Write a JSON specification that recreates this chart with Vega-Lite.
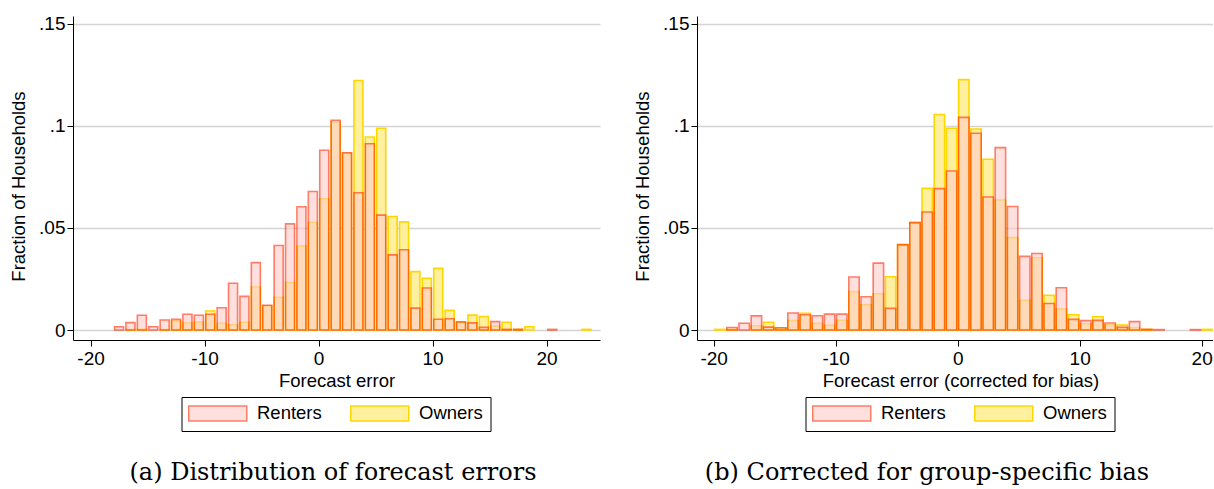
{
  "$schema": "https://vega.github.io/schema/vega-lite/v6.json",
  "background": "white",
  "padding": {"left": 9, "top": 14, "right": 0, "bottom": 0},
  "bounds": "flush",
  "spacing": 97,
  "config": {
    "view": {"stroke": null},
    "font": "Liberation Sans",
    "axis": {
      "domainColor": "black",
      "domainWidth": 1,
      "tickColor": "black",
      "tickWidth": 1,
      "tickSize": 6,
      "labelColor": "black",
      "labelFont": "Liberation Sans",
      "labelFontSize": 19,
      "titleFont": "Liberation Sans",
      "titleFontSize": 18.5,
      "titleFontWeight": "normal",
      "titleColor": "black",
      "gridColor": "#d4d4d4",
      "gridWidth": 1.3
    },
    "legend": {
      "direction": "horizontal",
      "strokeColor": "black",
      "padding": 7,
      "symbolType": "M-3.867,-1H3.867V1H-3.867Z",
      "symbolSize": 225,
      "symbolStrokeWidth": 1.5,
      "symbolOffset": 20,
      "labelOffset": 30,
      "columnPadding": 25,
      "labelFont": "Liberation Sans",
      "labelFontSize": 18.5,
      "labelColor": "black",
      "labelLimit": 0
    },
    "title": {
      "orient": "bottom",
      "anchor": "middle",
      "frame": "group",
      "font": "DejaVu Serif",
      "fontSize": 24,
      "fontWeight": "normal",
      "color": "black",
      "baseline": "alphabetic",
      "offset": 29
    }
  },
  "resolve": {
    "scale": {"fill": "independent", "stroke": "independent", "opacity": "independent"},
    "legend": {"fill": "independent", "stroke": "independent", "opacity": "independent"}
  },
  "datasets": {
    "errors": [
      {"group": "Renters", "lo": -18, "hi": -17, "frac": 0.0016},
      {"group": "Renters", "lo": -17, "hi": -16, "frac": 0.0036},
      {"group": "Renters", "lo": -16, "hi": -15, "frac": 0.0072},
      {"group": "Renters", "lo": -15, "hi": -14, "frac": 0.0016},
      {"group": "Renters", "lo": -14, "hi": -13, "frac": 0.0049},
      {"group": "Renters", "lo": -13, "hi": -12, "frac": 0.0052},
      {"group": "Renters", "lo": -12, "hi": -11, "frac": 0.0077},
      {"group": "Renters", "lo": -11, "hi": -10, "frac": 0.0072},
      {"group": "Renters", "lo": -10, "hi": -9, "frac": 0.0077},
      {"group": "Renters", "lo": -9, "hi": -8, "frac": 0.0109},
      {"group": "Renters", "lo": -8, "hi": -7, "frac": 0.0229},
      {"group": "Renters", "lo": -7, "hi": -6, "frac": 0.0165},
      {"group": "Renters", "lo": -6, "hi": -5, "frac": 0.0330},
      {"group": "Renters", "lo": -5, "hi": -4, "frac": 0.0121},
      {"group": "Renters", "lo": -4, "hi": -3, "frac": 0.0414},
      {"group": "Renters", "lo": -3, "hi": -2, "frac": 0.0520},
      {"group": "Renters", "lo": -2, "hi": -1, "frac": 0.0604},
      {"group": "Renters", "lo": -1, "hi": 0, "frac": 0.0679},
      {"group": "Renters", "lo": 0, "hi": 1, "frac": 0.0881},
      {"group": "Renters", "lo": 1, "hi": 2, "frac": 0.1028},
      {"group": "Renters", "lo": 2, "hi": 3, "frac": 0.0869},
      {"group": "Renters", "lo": 3, "hi": 4, "frac": 0.0673},
      {"group": "Renters", "lo": 4, "hi": 5, "frac": 0.0913},
      {"group": "Renters", "lo": 5, "hi": 6, "frac": 0.0563},
      {"group": "Renters", "lo": 6, "hi": 7, "frac": 0.0368},
      {"group": "Renters", "lo": 7, "hi": 8, "frac": 0.0393},
      {"group": "Renters", "lo": 8, "hi": 9, "frac": 0.0107},
      {"group": "Renters", "lo": 9, "hi": 10, "frac": 0.0206},
      {"group": "Renters", "lo": 10, "hi": 11, "frac": 0.0053},
      {"group": "Renters", "lo": 11, "hi": 12, "frac": 0.0055},
      {"group": "Renters", "lo": 12, "hi": 13, "frac": 0.0040},
      {"group": "Renters", "lo": 13, "hi": 14, "frac": 0.0035},
      {"group": "Renters", "lo": 14, "hi": 15, "frac": 0.0013},
      {"group": "Renters", "lo": 15, "hi": 16, "frac": 0.0041},
      {"group": "Renters", "lo": 16, "hi": 17, "frac": 0.0003},
      {"group": "Renters", "lo": 17, "hi": 18, "frac": 0.0003},
      {"group": "Renters", "lo": 20, "hi": 21, "frac": 0.0003},
      {"group": "Owners", "lo": -17, "hi": -16, "frac": 0.0002},
      {"group": "Owners", "lo": -16, "hi": -15, "frac": 0.0003},
      {"group": "Owners", "lo": -14, "hi": -13, "frac": 0.0002},
      {"group": "Owners", "lo": -13, "hi": -12, "frac": 0.0044},
      {"group": "Owners", "lo": -12, "hi": -11, "frac": 0.0034},
      {"group": "Owners", "lo": -11, "hi": -10, "frac": 0.0039},
      {"group": "Owners", "lo": -10, "hi": -9, "frac": 0.0093},
      {"group": "Owners", "lo": -9, "hi": -8, "frac": 0.0033},
      {"group": "Owners", "lo": -8, "hi": -7, "frac": 0.0025},
      {"group": "Owners", "lo": -7, "hi": -6, "frac": 0.0038},
      {"group": "Owners", "lo": -6, "hi": -5, "frac": 0.0211},
      {"group": "Owners", "lo": -5, "hi": -4, "frac": 0.0118},
      {"group": "Owners", "lo": -4, "hi": -3, "frac": 0.0160},
      {"group": "Owners", "lo": -3, "hi": -2, "frac": 0.0232},
      {"group": "Owners", "lo": -2, "hi": -1, "frac": 0.0411},
      {"group": "Owners", "lo": -1, "hi": 0, "frac": 0.0527},
      {"group": "Owners", "lo": 0, "hi": 1, "frac": 0.0643},
      {"group": "Owners", "lo": 1, "hi": 2, "frac": 0.1021},
      {"group": "Owners", "lo": 2, "hi": 3, "frac": 0.0866},
      {"group": "Owners", "lo": 3, "hi": 4, "frac": 0.1223},
      {"group": "Owners", "lo": 4, "hi": 5, "frac": 0.0946},
      {"group": "Owners", "lo": 5, "hi": 6, "frac": 0.0989},
      {"group": "Owners", "lo": 6, "hi": 7, "frac": 0.0556},
      {"group": "Owners", "lo": 7, "hi": 8, "frac": 0.0530},
      {"group": "Owners", "lo": 8, "hi": 9, "frac": 0.0286},
      {"group": "Owners", "lo": 9, "hi": 10, "frac": 0.0254},
      {"group": "Owners", "lo": 10, "hi": 11, "frac": 0.0302},
      {"group": "Owners", "lo": 11, "hi": 12, "frac": 0.0096},
      {"group": "Owners", "lo": 12, "hi": 13, "frac": 0.0037},
      {"group": "Owners", "lo": 13, "hi": 14, "frac": 0.0073},
      {"group": "Owners", "lo": 14, "hi": 15, "frac": 0.0066},
      {"group": "Owners", "lo": 15, "hi": 16, "frac": 0.0019},
      {"group": "Owners", "lo": 16, "hi": 17, "frac": 0.0038},
      {"group": "Owners", "lo": 17, "hi": 18, "frac": 0.0003},
      {"group": "Owners", "lo": 18, "hi": 19, "frac": 0.0016},
      {"group": "Owners", "lo": 23, "hi": 24, "frac": 0.0003}
    ],
    "corrected": [
      {"group": "Renters", "lo": -19, "hi": -18, "frac": 0.0012},
      {"group": "Renters", "lo": -18, "hi": -17, "frac": 0.0033},
      {"group": "Renters", "lo": -17, "hi": -16, "frac": 0.0069},
      {"group": "Renters", "lo": -16, "hi": -15, "frac": 0.0014},
      {"group": "Renters", "lo": -15, "hi": -14, "frac": 0.0011},
      {"group": "Renters", "lo": -14, "hi": -13, "frac": 0.0083},
      {"group": "Renters", "lo": -13, "hi": -12, "frac": 0.0075},
      {"group": "Renters", "lo": -12, "hi": -11, "frac": 0.0070},
      {"group": "Renters", "lo": -11, "hi": -10, "frac": 0.0078},
      {"group": "Renters", "lo": -10, "hi": -9, "frac": 0.0078},
      {"group": "Renters", "lo": -9, "hi": -8, "frac": 0.0260},
      {"group": "Renters", "lo": -8, "hi": -7, "frac": 0.0163},
      {"group": "Renters", "lo": -7, "hi": -6, "frac": 0.0328},
      {"group": "Renters", "lo": -6, "hi": -5, "frac": 0.0106},
      {"group": "Renters", "lo": -5, "hi": -4, "frac": 0.0417},
      {"group": "Renters", "lo": -4, "hi": -3, "frac": 0.0525},
      {"group": "Renters", "lo": -3, "hi": -2, "frac": 0.0578},
      {"group": "Renters", "lo": -2, "hi": -1, "frac": 0.0693},
      {"group": "Renters", "lo": -1, "hi": 0, "frac": 0.0779},
      {"group": "Renters", "lo": 0, "hi": 1, "frac": 0.1042},
      {"group": "Renters", "lo": 1, "hi": 2, "frac": 0.0964},
      {"group": "Renters", "lo": 2, "hi": 3, "frac": 0.0652},
      {"group": "Renters", "lo": 3, "hi": 4, "frac": 0.0894},
      {"group": "Renters", "lo": 4, "hi": 5, "frac": 0.0605},
      {"group": "Renters", "lo": 5, "hi": 6, "frac": 0.0361},
      {"group": "Renters", "lo": 6, "hi": 7, "frac": 0.0375},
      {"group": "Renters", "lo": 7, "hi": 8, "frac": 0.0130},
      {"group": "Renters", "lo": 8, "hi": 9, "frac": 0.0207},
      {"group": "Renters", "lo": 9, "hi": 10, "frac": 0.0052},
      {"group": "Renters", "lo": 10, "hi": 11, "frac": 0.0046},
      {"group": "Renters", "lo": 11, "hi": 12, "frac": 0.0047},
      {"group": "Renters", "lo": 12, "hi": 13, "frac": 0.0034},
      {"group": "Renters", "lo": 13, "hi": 14, "frac": 0.0013},
      {"group": "Renters", "lo": 14, "hi": 15, "frac": 0.0041},
      {"group": "Renters", "lo": 15, "hi": 16, "frac": 0.0003},
      {"group": "Renters", "lo": 16, "hi": 17, "frac": 0.0002},
      {"group": "Renters", "lo": 19, "hi": 20, "frac": 0.0002},
      {"group": "Owners", "lo": -20, "hi": -19, "frac": 0.0003},
      {"group": "Owners", "lo": -19, "hi": -18, "frac": 0.0003},
      {"group": "Owners", "lo": -17, "hi": -16, "frac": 0.0021},
      {"group": "Owners", "lo": -16, "hi": -15, "frac": 0.0038},
      {"group": "Owners", "lo": -15, "hi": -14, "frac": 0.0008},
      {"group": "Owners", "lo": -14, "hi": -13, "frac": 0.0046},
      {"group": "Owners", "lo": -13, "hi": -12, "frac": 0.0082},
      {"group": "Owners", "lo": -12, "hi": -11, "frac": 0.0033},
      {"group": "Owners", "lo": -11, "hi": -10, "frac": 0.0023},
      {"group": "Owners", "lo": -10, "hi": -9, "frac": 0.0048},
      {"group": "Owners", "lo": -9, "hi": -8, "frac": 0.0188},
      {"group": "Owners", "lo": -8, "hi": -7, "frac": 0.0123},
      {"group": "Owners", "lo": -7, "hi": -6, "frac": 0.0178},
      {"group": "Owners", "lo": -6, "hi": -5, "frac": 0.0261},
      {"group": "Owners", "lo": -5, "hi": -4, "frac": 0.0420},
      {"group": "Owners", "lo": -4, "hi": -3, "frac": 0.0529},
      {"group": "Owners", "lo": -3, "hi": -2, "frac": 0.0694},
      {"group": "Owners", "lo": -2, "hi": -1, "frac": 0.1056},
      {"group": "Owners", "lo": -1, "hi": 0, "frac": 0.0989},
      {"group": "Owners", "lo": 0, "hi": 1, "frac": 0.1227},
      {"group": "Owners", "lo": 1, "hi": 2, "frac": 0.0985},
      {"group": "Owners", "lo": 2, "hi": 3, "frac": 0.0837},
      {"group": "Owners", "lo": 3, "hi": 4, "frac": 0.0637},
      {"group": "Owners", "lo": 4, "hi": 5, "frac": 0.0453},
      {"group": "Owners", "lo": 5, "hi": 6, "frac": 0.0145},
      {"group": "Owners", "lo": 6, "hi": 7, "frac": 0.0354},
      {"group": "Owners", "lo": 7, "hi": 8, "frac": 0.0170},
      {"group": "Owners", "lo": 8, "hi": 9, "frac": 0.0103},
      {"group": "Owners", "lo": 9, "hi": 10, "frac": 0.0075},
      {"group": "Owners", "lo": 10, "hi": 11, "frac": 0.0031},
      {"group": "Owners", "lo": 11, "hi": 12, "frac": 0.0065},
      {"group": "Owners", "lo": 12, "hi": 13, "frac": 0.0025},
      {"group": "Owners", "lo": 13, "hi": 14, "frac": 0.0024},
      {"group": "Owners", "lo": 14, "hi": 15, "frac": 0.0011},
      {"group": "Owners", "lo": 15, "hi": 16, "frac": 0.0003},
      {"group": "Owners", "lo": 20, "hi": 21, "frac": 0.0003}
    ]
  },
  "hconcat": [
    {
      "width": 527,
      "height": 324,
      "title": {"text": "(a) Distribution of forecast errors", "dx": -3.5},
      "data": {"name": "errors"},
      "encoding": {
        "x": {
          "field": "lo",
          "type": "quantitative",
          "scale": {"domain": [-21.54, 24.69], "nice": false, "zero": false},
          "axis": {"title": "Forecast error", "values": [-20, -10, 0, 10, 20], "labelExpr": "'' + datum.value", "labelFlush": false, "labelPadding": 3, "titlePadding": 3, "titleX": 263.5, "grid": false}
        },
        "x2": {"field": "hi"},
        "y": {
          "field": "frac",
          "type": "quantitative",
          "scale": {"domain": [-0.0049, 0.1539], "nice": false, "zero": false},
          "axis": {"title": "Fraction of Households", "values": [0, 0.05, 0.1, 0.15], "labelExpr": "datum.value == 0 ? '0' : slice(format(datum.value, '.2~f'), 1)", "labelPadding": 2, "grid": true, "titleX": -55, "titleY": 170, "titleBaseline": "middle"}
        },
        "y2": {"datum": 0},
        "fill": {
          "field": "group",
          "type": "nominal",
          "scale": {"domain": ["Renters", "Owners"], "range": ["#ffccca", "#fff0a0"]},
          "legend": {"title": null, "orient": "none", "legendX": 108.5, "legendY": 381}
        },
        "stroke": {
          "field": "group",
          "type": "nominal",
          "scale": {"domain": ["Renters", "Owners"], "range": ["#ff2600", "#ffd700"]},
          "legend": {"title": null, "orient": "none", "legendX": 108.5, "legendY": 381}
        },
        "opacity": {
          "field": "group",
          "type": "nominal",
          "scale": {"domain": ["Renters", "Owners"], "range": [0.6, 1]},
          "legend": {"title": null, "orient": "none", "legendX": 108.5, "legendY": 381}
        }
      },
      "layer": [
        {
          "transform": [{"filter": "datum.group == 'Owners'"}],
          "mark": {"type": "bar", "strokeWidth": 1.6, "xOffset": 1.2, "x2Offset": -1.2, "clip": true}
        },
        {
          "transform": [{"filter": "datum.group == 'Renters'"}],
          "mark": {"type": "bar", "strokeWidth": 1.6, "xOffset": 1.2, "x2Offset": -1.2, "clip": true}
        }
      ]
    },
    {
      "width": 516,
      "height": 324,
      "title": {"text": "(b) Corrected for group-specific bias", "dx": -28},
      "data": {"name": "corrected"},
      "encoding": {
        "x": {
          "field": "lo",
          "type": "quantitative",
          "scale": {"domain": [-21.37, 20.93], "nice": false, "zero": false},
          "axis": {"title": "Forecast error (corrected for bias)", "values": [-20, -10, 0, 10, 20], "labelExpr": "'' + datum.value", "labelFlush": false, "labelPadding": 3, "titlePadding": 3, "titleX": 263.5, "grid": false}
        },
        "x2": {"field": "hi"},
        "y": {
          "field": "frac",
          "type": "quantitative",
          "scale": {"domain": [-0.0049, 0.1539], "nice": false, "zero": false},
          "axis": {"title": "Fraction of Households", "values": [0, 0.05, 0.1, 0.15], "labelExpr": "datum.value == 0 ? '0' : slice(format(datum.value, '.2~f'), 1)", "labelPadding": 2, "grid": true, "titleX": -55, "titleY": 170, "titleBaseline": "middle"}
        },
        "y2": {"datum": 0},
        "fill": {
          "field": "group",
          "type": "nominal",
          "scale": {"domain": ["Renters", "Owners"], "range": ["#ffccca", "#fff0a0"]},
          "legend": {"title": null, "orient": "none", "legendX": 108.5, "legendY": 381}
        },
        "stroke": {
          "field": "group",
          "type": "nominal",
          "scale": {"domain": ["Renters", "Owners"], "range": ["#ff2600", "#ffd700"]},
          "legend": {"title": null, "orient": "none", "legendX": 108.5, "legendY": 381}
        },
        "opacity": {
          "field": "group",
          "type": "nominal",
          "scale": {"domain": ["Renters", "Owners"], "range": [0.6, 1]},
          "legend": {"title": null, "orient": "none", "legendX": 108.5, "legendY": 381}
        }
      },
      "layer": [
        {
          "transform": [{"filter": "datum.group == 'Owners'"}],
          "mark": {"type": "bar", "strokeWidth": 1.6, "xOffset": 0.9, "x2Offset": -0.9, "clip": true}
        },
        {
          "transform": [{"filter": "datum.group == 'Renters'"}],
          "mark": {"type": "bar", "strokeWidth": 1.6, "xOffset": 0.9, "x2Offset": -0.9, "clip": true}
        }
      ]
    }
  ]
}
